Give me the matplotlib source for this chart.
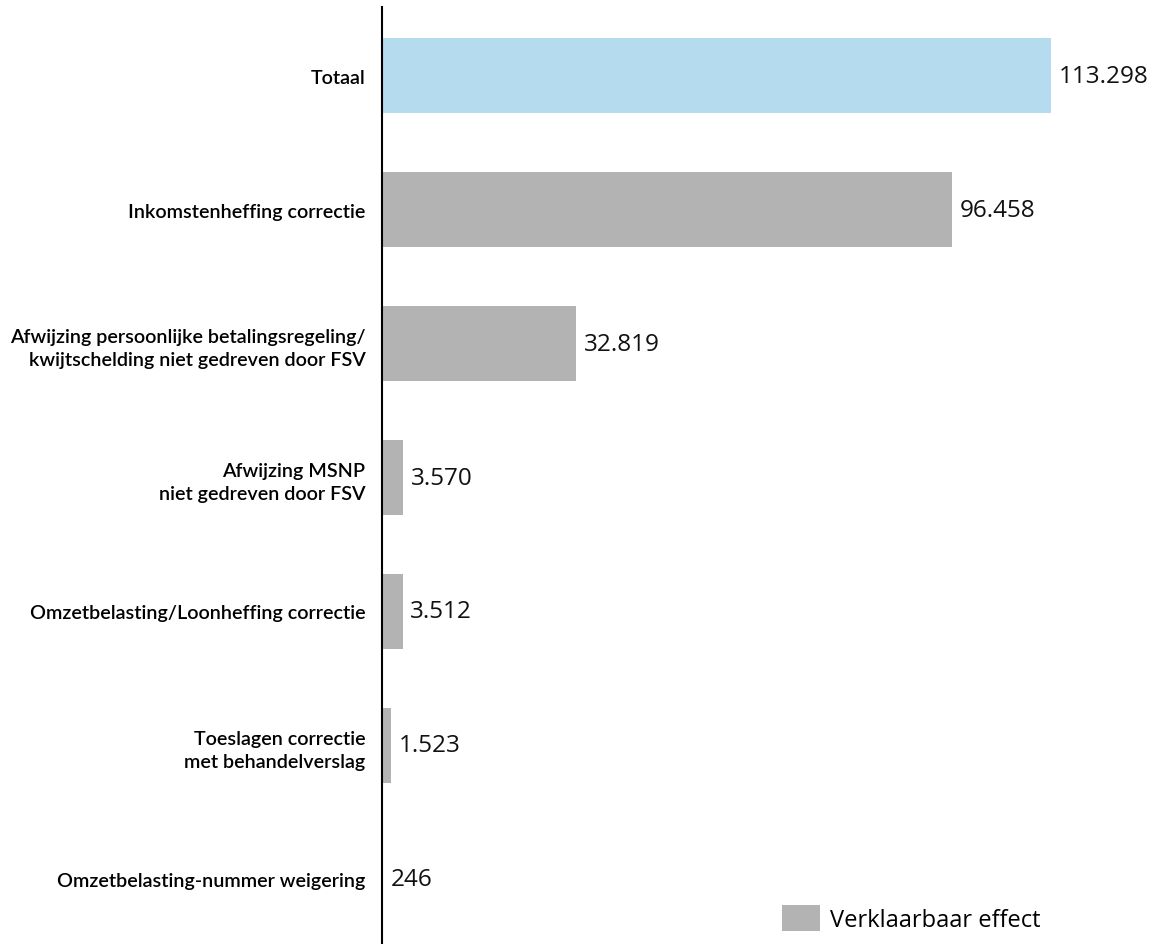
import matplotlib
matplotlib.use("Agg")
import matplotlib.pyplot as plt
from matplotlib.patches import Patch

categories = [
    "Totaal",
    "Inkomstenheffing correctie",
    "Afwijzing persoonlijke betalingsregeling/\nkwijtschelding niet gedreven door FSV",
    "Afwijzing MSNP\nniet gedreven door FSV",
    "Omzetbelasting/Loonheffing correctie",
    "Toeslagen correctie\nmet behandelverslag",
    "Omzetbelasting-nummer weigering",
]
values = [113298, 96458, 32819, 3570, 3512, 1523, 246]
value_labels = ["113.298", "96.458", "32.819", "3.570", "3.512", "1.523", "246"]
colors = ["#b5dbee"] + ["#b3b3b3"] * 6
legend_label = "Verklaarbaar effect"

fig = plt.figure(figsize=(11.55, 9.45), dpi=100)
ax = fig.add_axes([382 / 1155, 0.0, 1 - 382 / 1155, 1 - 8 / 945])

y = list(range(len(categories)))
ax.barh(y, values, height=0.56, color=colors)
ax.set_ylim(6.485, -0.515)
ax.set_xlim(0, 130900)

for yi, v, lab in zip(y, values, value_labels):
    ax.text(v + 1300, yi, lab, va="center", ha="left", fontsize=17.5,
            family="Open Sans", color="#111111")

ax.set_yticks(y)
ax.set_yticklabels(categories, fontsize=14.2, family="Lato", fontweight="semibold",
                   color="#000000", linespacing=1.45)
ax.tick_params(axis="y", length=0, pad=12)
ax.set_xticks([])
for s in ["top", "right", "bottom"]:
    ax.spines[s].set_visible(False)
ax.spines["left"].set_linewidth(1.5)
ax.spines["left"].set_color("#000000")

handle = Patch(facecolor="#b3b3b3", edgecolor="none")
leg = ax.legend([handle], [legend_label], loc="lower right", frameon=False,
                prop={"family": "Open Sans", "size": 17},
                handlelength=1.6, handleheight=1.3, handletextpad=0.45,
                bbox_to_anchor=(0.880, -0.010))

fig.savefig("out.png", dpi=100)
